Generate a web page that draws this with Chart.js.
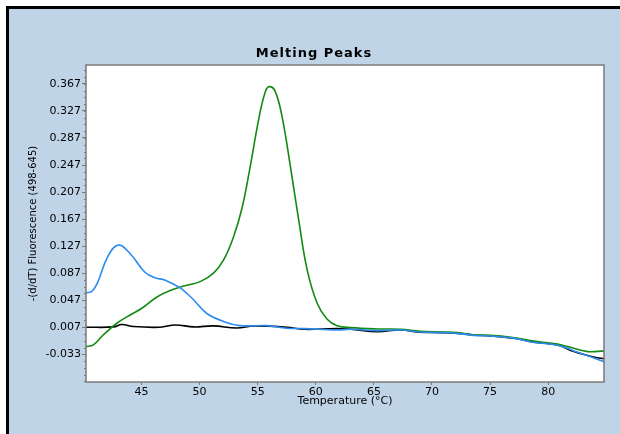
<!DOCTYPE html>
<html>
<head>
<meta charset="utf-8">
<script src="https://cdn.jsdelivr.net/npm/chart.js@4"></script>
<style>
  html, body { margin: 0; padding: 0; background: #fff; }
  #wrap { position: relative; width: 620px; height: 434px; }
</style>
</head>
<body>
<div id="wrap"><canvas id="myChart" width="620" height="434"></canvas></div>
<script>
// temperatures (°C) and -(d/dT) values per curve
const greenTemp = [40.23, 40.86, 41.72, 42.88, 44.03, 45.03, 46.3, 47.47, 48.9, 50.06, 51.2, 52.07, 52.93, 53.65, 54.36, 55.08, 55.66, 56.03, 56.52, 57.1, 57.82, 58.53, 59.26, 60.12, 60.98, 61.84, 63.0, 65.3, 67.3, 69.0, 70.75, 72.2, 73.6, 75.1, 77.1, 78.8, 80.8, 81.7, 83.4, 84.8];
const greenVals = [-0.0217, -0.0192, -0.0044, 0.0129, 0.0252, 0.0351, 0.0514, 0.0612, 0.0692, 0.0745, 0.087, 0.1066, 0.141, 0.183, 0.2446, 0.3138, 0.3556, 0.363, 0.3556, 0.3186, 0.2446, 0.1658, 0.0918, 0.0425, 0.0188, 0.0094, 0.0065, 0.0045, 0.004, 0.001, 0.0, -0.001, -0.004, -0.005, -0.0085, -0.0135, -0.018, -0.0217, -0.029, -0.028];

const blueTemp = [40.23, 40.7, 41.2, 42.1, 43.0, 44.0, 45.3, 46.2, 47.0, 48.3, 48.9, 49.5, 50.6, 52.1, 53.5, 55.8, 57.5, 59.0, 61.8, 63.0, 65.3, 67.3, 69.0, 70.75, 72.2, 73.6, 75.1, 77.1, 78.8, 80.8, 82.2, 84.0, 84.8];
const blueVals = [0.058, 0.0597, 0.072, 0.1115, 0.1288, 0.1165, 0.0884, 0.080, 0.077, 0.0656, 0.0573, 0.0474, 0.0277, 0.0153, 0.0094, 0.0094, 0.0055, 0.005, 0.003, 0.004, 0.002, 0.003, 0.0, -0.001, -0.002, -0.005, -0.006, -0.0095, -0.0155, -0.0195, -0.028, -0.039, -0.044];

const blackTemp = [40.23, 42.6, 43.3, 44.3, 46.6, 47.9, 49.5, 51.2, 53.2, 54.7, 57.5, 59.0, 61.8, 63.0, 65.3, 67.3, 69.0, 70.75, 72.2, 73.6, 75.1, 77.1, 78.8, 80.8, 82.2, 84.0, 84.8];
const blackVals = [0.007, 0.0075, 0.011, 0.008, 0.007, 0.0104, 0.0075, 0.009, 0.006, 0.009, 0.007, 0.004, 0.005, 0.004, 0.0005, 0.003, -0.0004, -0.001, -0.002, -0.0044, -0.0059, -0.0093, -0.0152, -0.0192, -0.029, -0.0374, -0.0394];

const yTicks = [-0.033, 0.007, 0.047, 0.087, 0.127, 0.167, 0.207, 0.247, 0.287, 0.327, 0.367];
const xTicks = [45, 50, 55, 60, 65, 70, 75, 80];

function pts(xs, ys) {
    return xs.map((x, i) => ({ x: x, y: ys[i] }));
}

const frame = {
    id: 'frame',
    beforeDraw(chart) {
        const c = chart.ctx;
        c.save();
        c.fillStyle = '#ffffff';
        c.fillRect(0, 0, chart.width, chart.height);
        c.fillStyle = '#c0d4e8';
        c.fillRect(7, 7, chart.width - 7, chart.height - 7);
        c.fillStyle = '#000';
        c.fillRect(7, 6, chart.width - 7, 3);
        c.fillRect(6, 6, 3, chart.height - 6);
        const a = chart.chartArea;
        c.fillStyle = '#ffffff';
        c.fillRect(a.left, a.top, a.right - a.left, a.bottom - a.top);
        // title
        c.fillStyle = '#000';
        c.font = 'bold 13px "DejaVu Sans"';
        c.letterSpacing = '1px';
        c.textAlign = 'center';
        c.textBaseline = 'middle';
        c.fillText('Melting Peaks', 314, 54);
        c.restore();
    },
    afterDraw(chart) {
        const c = chart.ctx;
        const a = chart.chartArea;
        const ys = chart.scales.y;
        c.save();
        c.strokeStyle = '#7a7a7a';
        c.lineWidth = 1.5;
        c.strokeRect(a.left, a.top, a.right - a.left, a.bottom - a.top);
        // minor ticks on the y axis
        c.lineWidth = 1;
        for (let v = -0.073; v < 0.395; v += 0.01) {
            const p = Math.round(ys.getPixelForValue(v)) + 0.5;
            c.beginPath();
            c.moveTo(a.left - 2, p);
            c.lineTo(a.left, p);
            c.stroke();
        }
        c.restore();
    }
};

new Chart(document.getElementById('myChart'), {
    type: 'line',
    data: {
        datasets: [{
            label: 'black',
            data: pts(blackTemp, blackVals),
            borderColor: '#000000',
            borderWidth: 1.6,
            pointRadius: 0,
            tension: 0.4,
            order: 3
        }, {
            label: 'green',
            data: pts(greenTemp, greenVals),
            borderColor: '#138a13',
            borderWidth: 1.6,
            pointRadius: 0,
            tension: 0.4,
            order: 2
        }, {
            label: 'blue',
            data: pts(blueTemp, blueVals),
            borderColor: '#2b8cf0',
            borderWidth: 1.6,
            pointRadius: 0,
            tension: 0.4,
            order: 1
        }]
    },
    options: {
        responsive: false,
        animation: false,
        layout: { padding: { left: 0, top: 65, right: 16, bottom: 0 } },
        plugins: {
            legend: { display: false },
            tooltip: { enabled: false }
        },
        scales: {
            x: {
                type: 'linear',
                min: 40.23,
                max: 84.8,
                afterBuildTicks: s => { s.ticks = xTicks.map(v => ({ value: v })); },
                afterFit: s => { s.height = 52; },
                grid: { drawOnChartArea: false, tickLength: 3, tickColor: '#7a7a7a' },
                border: { display: false },
                ticks: {
                    color: '#000',
                    padding: 1,
                    maxRotation: 0,
                    font: { family: 'DejaVu Sans', size: 11 }
                },
                title: {
                    display: true,
                    text: 'Temperature (°C)',
                    color: '#000',
                    font: { family: 'DejaVu Sans', size: 11 },
                    padding: { top: 0, bottom: 26 }
                }
            },
            y: {
                min: -0.074,
                max: 0.395,
                afterBuildTicks: s => { s.ticks = yTicks.map(v => ({ value: v })); },
                afterFit: s => { s.width = 86; },
                grid: { drawOnChartArea: false, tickLength: 4, tickColor: '#7a7a7a' },
                border: { display: false },
                ticks: {
                    color: '#000',
                    padding: 1,
                    font: { family: 'DejaVu Sans', size: 11 },
                    callback: v => v.toFixed(3)
                },
                title: {
                    display: true,
                    text: '-(d/dT) Fluorescence (498-645)',
                    color: '#000',
                    font: { family: 'DejaVu Sans', size: 10 },
                    padding: { top: 27, bottom: 0 }
                }
            }
        }
    },
    plugins: [frame]
});
</script>
</body>
</html>
